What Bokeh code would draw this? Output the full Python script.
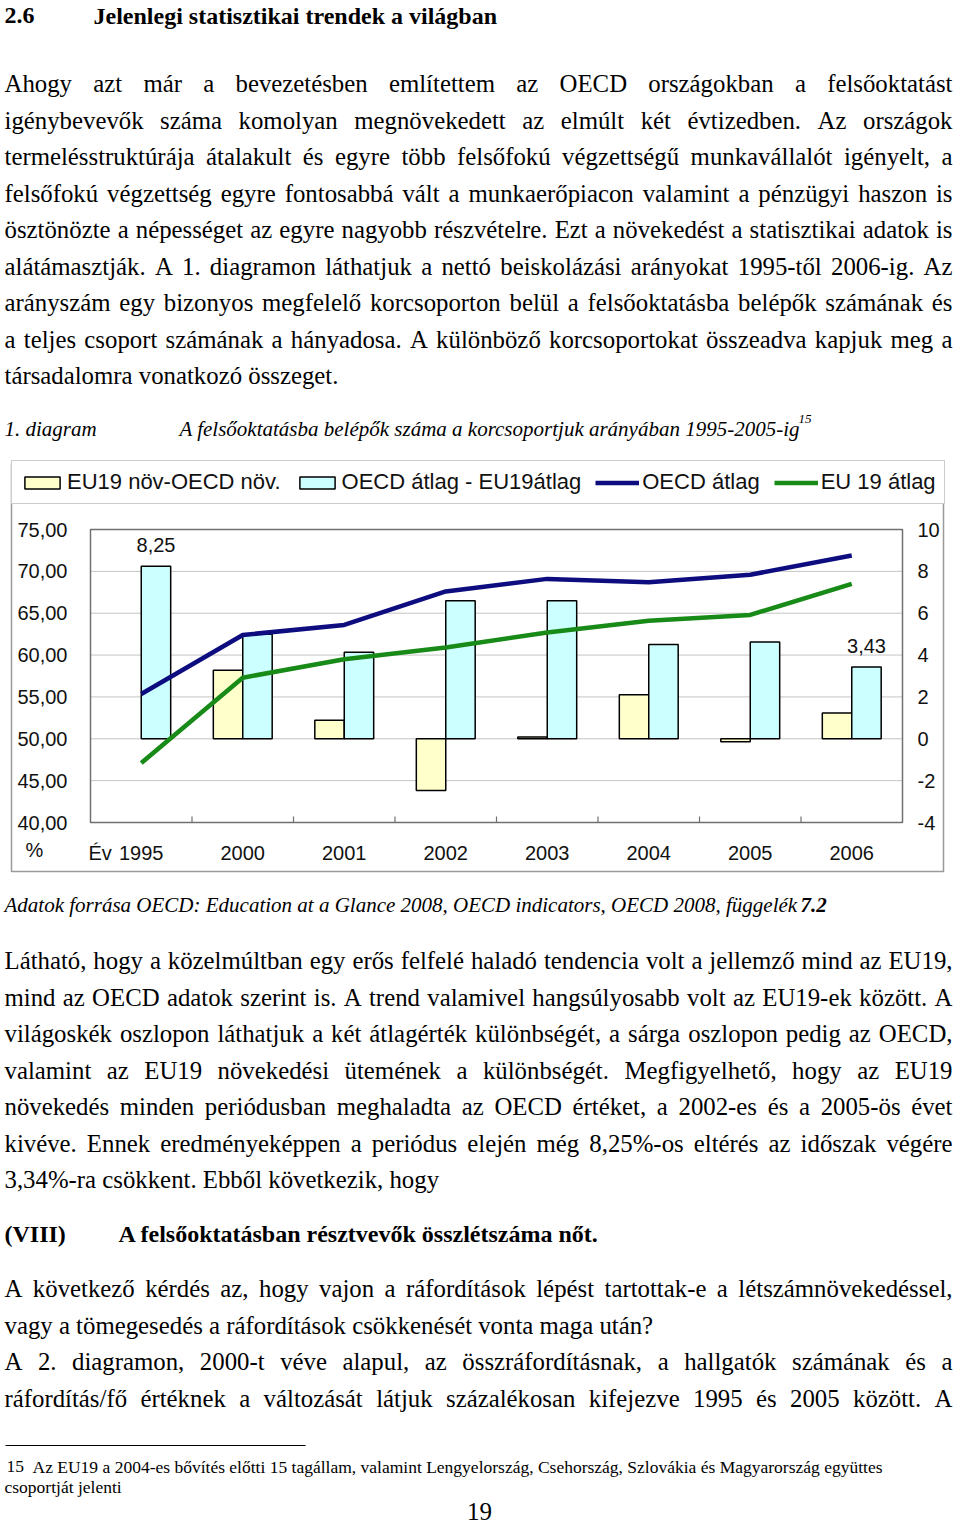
import numpy as np
from bokeh.plotting import figure
from bokeh.models import (Range1d, LinearAxis, FixedTicker, CustomJSTickFormatter,
                          ColumnDataSource, Legend, LegendItem)
from bokeh.transform import dodge
from bokeh.core.properties import value
from bokeh.embed import file_html
from bokeh.resources import INLINE

# ---------------- chart data ----------------
years = ["1995", "2000", "2001", "2002", "2003", "2004", "2005", "2006"]
oecd_avg = [55.35, 62.4, 63.6, 67.6, 69.1, 68.7, 69.6, 71.9]      # OECD átlag (%)
eu19_avg = [47.1, 57.3, 59.5, 60.9, 62.7, 64.1, 64.8, 68.5]       # EU 19 átlag (%)
avg_gap = [8.25, 5.0, 4.13, 6.59, 6.59, 4.51, 4.63, 3.43]         # OECD átlag - EU19átlag
growth_gap = [None, 3.27, 0.88, -2.47, 0.08, 2.10, -0.14, 1.23]   # EU19 növ-OECD növ.
left_ticks = [40, 45, 50, 55, 60, 65, 70, 75]
right_ticks = [-4, -2, 0, 2, 4, 6, 8, 10]
legend_labels = ["EU19 növ-OECD növ.", "OECD átlag - EU19átlag", "OECD átlag", "EU 19 átlag"]

# ---------------- page text ----------------
heading = ("2.6", "Jelenlegi statisztikai trendek a világban")
para1 = [
    "Ahogy azt már a bevezetésben említettem az OECD országokban a felsőoktatást",
    "igénybevevők száma komolyan megnövekedett az elmúlt két évtizedben. Az országok",
    "termelésstruktúrája átalakult és egyre több felsőfokú végzettségű munkavállalót igényelt, a",
    "felsőfokú végzettség egyre fontosabbá vált a munkaerőpiacon valamint a pénzügyi haszon is",
    "ösztönözte a népességet az egyre nagyobb részvételre. Ezt a növekedést a statisztikai adatok is",
    "alátámasztják. A 1. diagramon láthatjuk a nettó beiskolázási arányokat 1995-től 2006-ig. Az",
    "arányszám egy bizonyos megfelelő korcsoporton belül a felsőoktatásba belépők számának és",
    "a teljes csoport számának a hányadosa. A különböző korcsoportokat összeadva kapjuk meg a",
    "társadalomra vonatkozó összeget.",
]
caption = ("1. diagram", "A felsőoktatásba belépők száma a korcsoportjuk arányában 1995-2005-ig", "15")
source_txt = ("Adatok forrása OECD: Education at a Glance 2008, OECD indicators, OECD 2008, függelék", "7.2")
para2 = [
    "Látható, hogy a közelmúltban egy erős felfelé haladó tendencia volt a jellemző mind az EU19,",
    "mind az OECD adatok szerint is. A trend valamivel hangsúlyosabb volt az EU19-ek között. A",
    "világoskék oszlopon láthatjuk a két átlagérték különbségét, a sárga oszlopon pedig az OECD,",
    "valamint az EU19 növekedési ütemének a különbségét. Megfigyelhető, hogy az EU19",
    "növekedés minden periódusban meghaladta az OECD értéket, a 2002-es és a 2005-ös évet",
    "kivéve. Ennek eredményeképpen a periódus elején még 8,25%-os eltérés az időszak végére",
    "3,34%-ra csökkent. Ebből következik, hogy",
]
thesis = ("(VIII)", "A felsőoktatásban résztvevők összlétszáma nőt.")
para3 = [
    ("A következő kérdés az, hogy vajon a ráfordítások lépést tartottak-e a létszámnövekedéssel,", True),
    ("vagy a tömegesedés a ráfordítások csökkenését vonta maga után?", False),
    ("A 2. diagramon, 2000-t véve alapul, az összráfordításnak, a hallgatók számának és a", True),
    ("ráfordítás/fő értéknek a változását látjuk százalékosan kifejezve 1995 és 2005 között. A", True),
]
footnote = ("15", "Az EU19 a 2004-es bővítés előtti 15 tagállam, valamint Lengyelország, Csehország, Szlovákia és Magyarország együttes",
            "csoportját jelenti")
page_no = "19"

# ---------------- text metrics (Times / Liberation Serif) ----------------
BASE = str.maketrans("áéíóöőúüűÁÉÍÓÖŐÚÜŰ", "aeiooouuuAEIOOOUUU")
W = {}
for ch, w in zip("abcdefghijklmnopqrstuvwxyz",
                 [444, 500, 444, 500, 444, 333, 500, 500, 278, 278, 500, 278, 778, 500, 500, 500, 500, 333, 389, 278, 500, 500, 722, 500, 500, 444]):
    W[ch] = w
for ch, w in zip("ABCDEFGHIJKLMNOPQRSTUVWXYZ",
                 [722, 667, 667, 722, 611, 556, 722, 722, 333, 389, 722, 611, 889, 722, 722, 556, 722, 667, 556, 611, 722, 722, 944, 722, 722, 611]):
    W[ch] = w
for d in "0123456789":
    W[d] = 500
W.update({" ": 250, ".": 250, ",": 250, "-": 333, ":": 278, ";": 278, "?": 444, "!": 333,
          "(": 333, ")": 333, "/": 278, "%": 833})


def tw(s, size):
    return sum(W.get(c, 500) for c in s.translate(BASE)) * size / 1000.0


SERIF = "Liberation Serif"
SANS = "Liberation Sans"
BODY = 24.8
LEAD = 36.54
SCR_L, SCR_R, SCR_T, SCR_B = 0, 960, 0, 1526   # canvas = page (frame covers whole canvas)
TX0, TX1 = 4, 952            # text block left / right edge
TDY = -8                     # text baseline correction (text renders lower than its anchor)


def justify(line, y, size):
    words = line.split(" ")
    ws = [tw(w, size) for w in words]
    gap = (TX1 - TX0 - sum(ws)) / (len(words) - 1)
    out, x = [], TX0
    for i, (w, wd) in enumerate(zip(words, ws)):
        if i == len(words) - 1:
            out.append((TX1, y, w, "right"))
        else:
            out.append((x, y, w, "left"))
        x += wd + gap
    return out


p = figure(width=SCR_R - SCR_L, height=SCR_B - SCR_T, x_range=Range1d(SCR_L, SCR_R),
           y_range=Range1d(SCR_B, SCR_T), x_axis_type=None, y_axis_type=None,
           min_border=0, outline_line_color=None, toolbar_location=None,
           output_backend="svg")


def add_runs(runs, font, size, style):
    src = ColumnDataSource(dict(x=[r[0] for r in runs], y=[r[1] + TDY for r in runs],
                                t=[r[2] for r in runs], a=[r[3] for r in runs]))
    p.text(x="x", y="y", text="t", text_align="a", source=src, text_font=value(font),
           text_font_size=value(f"{size}px"), text_font_style=style,
           text_baseline="alphabetic", text_color="black")


# ---------------- text above the chart ----------------
bold = [(4, 23, heading[0], "left"), (93, 23, heading[1], "left")]
reg = []
for i, ln in enumerate(para1):
    y = 91 + LEAD * i
    if i < len(para1) - 1:
        reg += justify(ln, y, BODY)
    else:
        reg.append((TX0, y, ln, "left"))
ital = [(4, 436, caption[0], "left"), (179, 436, caption[1], "left")]

# ---------------- text below the chart ----------------
ital.append((4, 912, source_txt[0], "left"))
bital = [(800, 912, source_txt[1], "left")]
for i, ln in enumerate(para2):
    y = 968 + LEAD * i
    if i < len(para2) - 1:
        reg += justify(ln, y, BODY)
    else:
        reg.append((TX0, y, ln, "left"))
bold += [(4, 1241, thesis[0], "left"), (118, 1241, thesis[1], "left")]
for i, (ln, just) in enumerate(para3):
    y = 1296 + LEAD * i
    if just:
        reg += justify(ln, y, BODY)
    else:
        reg.append((TX0, y, ln, "left"))
foot = [(6, 1474, footnote[0], "left"), (32, 1474, footnote[1], "left"), (4, 1494, footnote[2], "left")]

add_runs(bold, SERIF, 24, "bold")
add_runs(reg, SERIF, BODY, "normal")
add_runs(ital, SERIF, 21, "italic")
add_runs(bital, SERIF, 21, "bold italic")
add_runs([(798, 426, caption[2], "left")], SERIF, 13, "italic")
add_runs(foot, SERIF, 17.5, "normal")
add_runs([(479, 1519, page_no, "center")], SERIF, 25, "normal")
p.segment(x0=[5], y0=[1445], x1=[305], y1=[1445], line_color="black", line_width=1.2)

# ---------------- chart (own ranges, mapped onto the page) ----------------
FR_L, FR_R, FR_T, FR_B = 90, 902, 529, 822   # plot area on the page
N = len(years)
Y0, Y1 = left_ticks[0], left_ticks[-1]
R0, R1 = right_ticks[0], right_ticks[-1]


def mapped_range(v_a, p_a, v_b, p_b, p_start, p_end):
    k = (v_b - v_a) / (p_b - p_a)
    return Range1d(v_a + (p_start - p_a) * k, v_a + (p_end - p_a) * k)


p.extra_x_ranges = {"cx": mapped_range(0, FR_L, N, FR_R, SCR_L, SCR_R)}
p.extra_y_ranges = {"cy": mapped_range(Y0, FR_B, Y1, FR_T, SCR_B, SCR_T),
                    "cd": mapped_range(R0, FR_B, R1, FR_T, SCR_B, SCR_T)}

# outer chart box
p.quad(left=11, right=943, top=463, bottom=871, fill_color="white", line_color="#9a9a9a", line_width=1.5)

# horizontal gridlines at left-axis ticks, across the plot area
p.segment(x0=0, x1=N, y0=left_ticks, y1=left_ticks, x_range_name="cx", y_range_name="cy",
          line_color="#c4c4c4", line_width=1)
# plot area border
p.quad(left=0, right=N, bottom=Y0, top=Y1, x_range_name="cx", y_range_name="cy",
       fill_color=None, line_color="#707070", line_width=1.5)
# category boundary ticks
tick_len = 6 * (Y1 - Y0) / (FR_B - FR_T)
bnd = list(range(1, N))
p.segment(x0=bnd, x1=bnd, y0=Y0, y1=Y0 + tick_len, x_range_name="cx", y_range_name="cy",
          line_color="#707070", line_width=1.2)

centers = [i + 0.5 for i in range(N)]
src = ColumnDataSource(dict(xc=centers, year=years, oecd=oecd_avg, eu=eu19_avg, gap=avg_gap,
                            growth=np.array(growth_gap, dtype=float)))
BW = 0.29
r_g = p.vbar(x=dodge("xc", -BW / 2), top="growth", bottom=0, width=BW, source=src,
             x_range_name="cx", y_range_name="cd", fill_color="#FFFFCC", line_color="black", line_width=1.5)
r_a = p.vbar(x=dodge("xc", BW / 2), top="gap", bottom=0, width=BW, source=src,
             x_range_name="cx", y_range_name="cd", fill_color="#CCFFFF", line_color="black", line_width=1.5)
r_o = p.line(x="xc", y="oecd", source=src, x_range_name="cx", y_range_name="cy",
             line_color="#0d0d80", line_width=4.5, line_join="round")
r_e = p.line(x="xc", y="eu", source=src, x_range_name="cx", y_range_name="cy",
             line_color="#178a17", line_width=4.5, line_join="round")

ends = [0, N - 1]
lbl = ColumnDataSource(dict(xc=[centers[i] for i in ends], val=[avg_gap[i] for i in ends],
                            txt=[f"{avg_gap[i]:.2f}".replace(".", ",") for i in ends]))
p.text(x=dodge("xc", BW / 2), y="val", text="txt", source=lbl, x_range_name="cx", y_range_name="cd",
       y_offset=-13 + TDY, text_align="center", text_baseline="alphabetic",
       text_font=value(SANS), text_font_size=value("20px"), text_color="#111111")


def style_axis(ax, standoff):
    ax.axis_line_color = None
    ax.major_tick_line_color = None
    ax.minor_tick_line_color = None
    ax.major_tick_out = 0
    ax.major_tick_in = 0
    ax.major_label_standoff = standoff
    ax.major_label_text_font = SANS
    ax.major_label_text_font_size = "20px"
    ax.major_label_text_color = "#111111"


ax_l = LinearAxis(x_range_name="cx", y_range_name="cy", fixed_location=0,
                  ticker=FixedTicker(ticks=left_ticks),
                  formatter=CustomJSTickFormatter(code="return tick.toFixed(2).replace('.', ',');"))
style_axis(ax_l, 23)
p.add_layout(ax_l, "left")

ax_r = LinearAxis(x_range_name="cx", y_range_name="cd", fixed_location=N,
                  ticker=FixedTicker(ticks=right_ticks),
                  formatter=CustomJSTickFormatter(code="return tick.toFixed(0);"))
style_axis(ax_r, 15)
p.add_layout(ax_r, "right")

ax_b = LinearAxis(x_range_name="cx", y_range_name="cy", fixed_location=Y0,
                  ticker=FixedTicker(ticks=centers),
                  formatter=CustomJSTickFormatter(args=dict(years=years),
                                                  code="return years[Math.round(tick - 0.5)];"))
style_axis(ax_b, 23)
p.add_layout(ax_b, "below")

# axis captions
p.text(x=[88, 25], y=[860 + TDY, 857 + TDY], text=["Év", "%"], text_align="left", text_baseline="alphabetic",
       text_font=value(SANS), text_font_size=value("20px"), text_color="#111111")

legend = Legend(items=[LegendItem(label=legend_labels[0], renderers=[r_g]),
                       LegendItem(label=legend_labels[1], renderers=[r_a]),
                       LegendItem(label=legend_labels[2], renderers=[r_o]),
                       LegendItem(label=legend_labels[3], renderers=[r_e])],
                orientation="horizontal", location=(11 - SCR_L, SCR_B - 504), padding=8, spacing=14,
                label_standoff=3, glyph_width=44, glyph_height=15, margin=0,
                label_text_font=SANS, label_text_font_size="22px", label_text_color="#111111",
                border_line_color="#9a9a9a", border_line_width=1.5,
                background_fill_color="white", background_fill_alpha=1.0)
p.add_layout(legend)

open("out.html", "w").write(file_html(p, INLINE))
